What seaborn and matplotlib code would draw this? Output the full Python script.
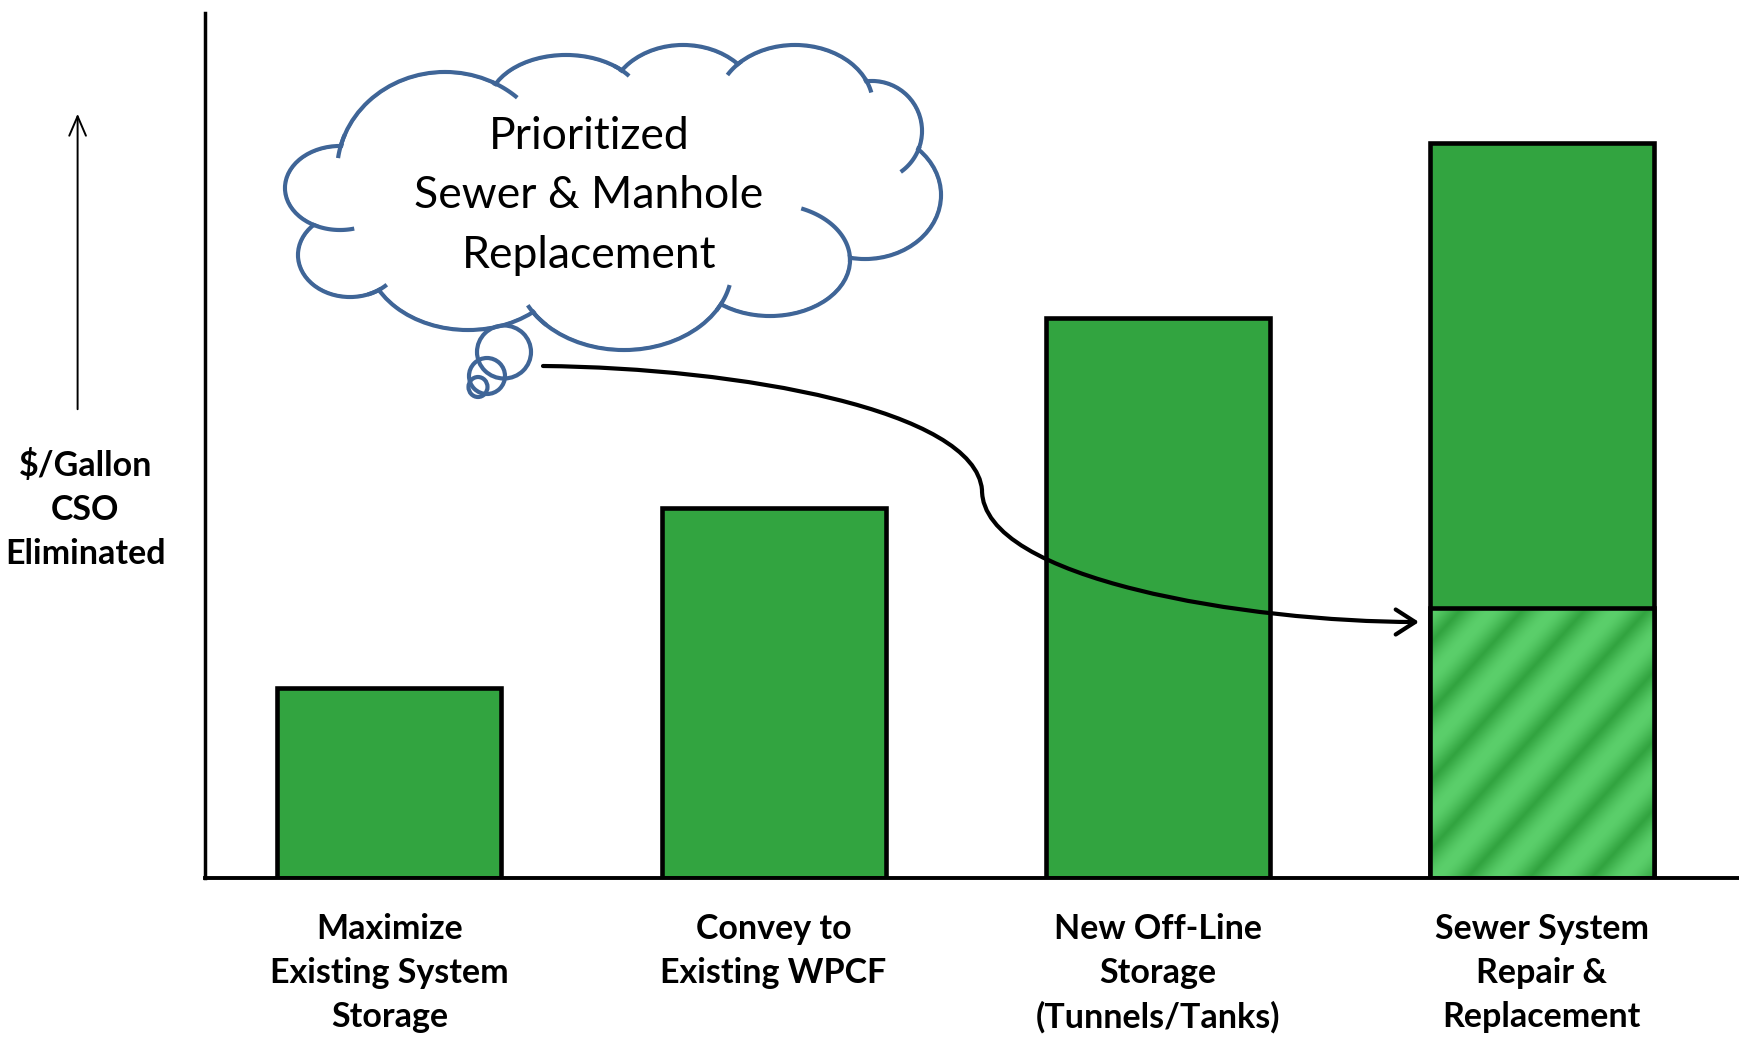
import matplotlib
matplotlib.use("Agg")
import matplotlib.pyplot as plt
import numpy as np
import pandas as pd
import seaborn as sns
from matplotlib.colors import to_rgb
from matplotlib.patches import Ellipse, FancyArrowPatch, Polygon, Rectangle
from matplotlib.path import Path

# chart values (arbitrary $/gallon units)
options = [
    "Maximize\nExisting System\nStorage",
    "Convey to\nExisting WPCF",
    "New Off-Line\nStorage\n(Tunnels/Tanks)",
    "Sewer System\nRepair &\nReplacement",
]
cost = [1.9, 3.7, 5.6, 7.35]
prioritized_option = ["Sewer System\nRepair &\nReplacement"]
prioritized_cost = [2.7]

y_label = "\\$/Gallon\nCSO\nEliminated"
cloud_text = "Prioritized\nSewer & Manhole\nReplacement"

DARK_GREEN = "#32A440"
LIGHT_GREEN = "#5BCF6B"
CLOUD_BLUE = "#3F6597"

sns.set_theme(style="white")
plt.rcParams["font.family"] = ["Lato", "DejaVu Sans"]

W, H = 1739, 1038
fig = plt.figure(figsize=(W / 100, H / 100), dpi=100)
ax = fig.add_axes([205 / W, 1 - 878 / H, 1 - 205 / W, (878 - 13) / H])

df = pd.DataFrame({"option": options, "cost": cost})
df_low = pd.DataFrame({"option": prioritized_option, "cost": prioritized_cost})

sns.barplot(data=df, x="option", y="cost", order=options, color=DARK_GREEN,
            saturation=1, width=0.583, edgecolor="black", linewidth=3.3,
            errorbar=None, ax=ax)
n_full = len(ax.patches)
sns.barplot(data=df_low, x="option", y="cost", order=options, color=LIGHT_GREEN,
            saturation=1, width=0.583, linewidth=0, errorbar=None, ax=ax)
low_bars = ax.patches[n_full:]

ax.set_xlim(-0.48, 3.513)
ax.set_ylim(0, 8.65)
ax.set_yticks([])
ax.set_xlabel("")
sns.despine(ax=ax)
ax.spines["left"].set_linewidth(2.5)
ax.spines["bottom"].set_linewidth(2.8)
for s in ("left", "bottom"):
    ax.spines[s].set_color("black")

ax.tick_params(axis="x", length=0, pad=25, labelsize=24.5, colors="black")
for lbl in ax.get_xticklabels():
    lbl.set_fontweight("bold")
    lbl.set_linespacing(1.46)

ax.set_ylabel(y_label, rotation=0, fontsize=24.5, fontweight="bold",
              ha="center", va="center", linespacing=1.46, color="black")
ax.yaxis.set_label_coords(-0.078, 0.4255)

# soft diagonal stripes on the prioritized part of the last bar
fig.canvas.draw()
dark, light = np.array(to_rgb(DARK_GREEN)), np.array(to_rgb(LIGHT_GREEN))
for p in low_bars:
    x0, y0 = p.get_xy()
    w, h = p.get_width(), p.get_height()
    (px0, py0), (px1, py1) = ax.transData.transform([(x0, y0), (x0 + w, y0 + h)])
    nx, ny = int(px1 - px0), int(py1 - py0)
    gx, gy = np.meshgrid(np.arange(nx), np.arange(ny))
    v = 0.5 + 0.5 * np.cos(2 * np.pi * (gx + 0.9 * gy) / 62.0)
    img = dark + (light - dark) * v[..., None] ** 0.6
    ax.imshow(img, extent=(x0, x0 + w, y0, y0 + h), origin="upper",
              aspect="auto", zorder=p.get_zorder() + 0.05, interpolation="bilinear")
    ax.add_patch(Rectangle((x0, y0), w, h, fill=False, edgecolor="black",
                           linewidth=3.3, zorder=p.get_zorder() + 0.1))
ax.set_xlim(-0.48, 3.513)
ax.set_ylim(0, 8.65)

# upward arrow beside the axis label
ax.annotate("", xy=(77.6, H - 111), xytext=(77.6, H - 412),
            xycoords="figure pixels", textcoords="figure pixels",
            arrowprops=dict(arrowstyle="->,head_length=0.7,head_width=0.3",
                            lw=1.4, color="black", mutation_scale=20))

# overlay in figure pixels for the thought cloud and the curved arrow
ov = fig.add_axes([0, 0, 1, 1], zorder=5)
ov.set_xlim(0, W)
ov.set_ylim(H, 0)
ov.axis("off")

lobes = [
    (445, 172, 108, 100), (566, 106, 78, 51), (683, 105, 75, 60),
    (795, 105, 78, 60), (872, 131, 50, 50), (865, 195, 76, 64),
    (770, 260, 80, 56), (624, 268, 108, 82), (468, 252, 102, 78),
    (350, 255, 52, 42), (340, 188, 55, 42),
]
for cx, cy, rx, ry in lobes:
    ov.add_patch(Ellipse((cx, cy), 2 * rx, 2 * ry, facecolor="white",
                         edgecolor=CLOUD_BLUE, lw=3.0, zorder=1))
for cx, cy, rx, ry in lobes:
    ov.add_patch(Ellipse((cx, cy), 2 * rx - 5, 2 * ry - 5, facecolor="white",
                         edgecolor="none", zorder=2))
ov.add_patch(Polygon([(cx, cy) for cx, cy, _, _ in lobes], closed=True,
                     facecolor="white", edgecolor="none", zorder=2))

# inner strokes: each lobe's outline carried on a little past where it meets its neighbour
hooks = [
    (0, -64, -48), (1, -52, -36), (3, -133, -150), (3, -25, -12),
    (4, 18, 55), (6, -67, 2), (7, 31, 12), (7, 136, 153),
    (9, 70, 45), (10, 120, 75), (0, -158, -172),
]
for i, t0, t1 in hooks:
    cx, cy, rx, ry = lobes[i]
    t = np.radians(np.linspace(t0, t1, 30))
    ov.plot(cx + rx * np.cos(t), cy + ry * np.sin(t), color=CLOUD_BLUE,
            lw=3.0, solid_capstyle="butt", zorder=3)

for cx, cy, ew, eh in [(504, 352, 54, 53), (487, 376, 36, 36), (478, 387, 19, 20)]:
    ov.add_patch(Ellipse((cx, cy), ew, eh, facecolor="none",
                         edgecolor=CLOUD_BLUE, lw=3.0, zorder=3))

ov.text(589, 196, cloud_text, ha="center", va="center", fontsize=32,
        linespacing=1.56, color="black", zorder=4)

verts = [(543, 366), (740, 368), (975, 410), (982, 490),
         (982, 580), (1250, 622), (1419, 622)]
codes = [Path.MOVETO] + [Path.CURVE4] * 6
ov.add_patch(FancyArrowPatch(path=Path(verts, codes),
                             arrowstyle="->,head_length=0.7,head_width=0.45",
                             mutation_scale=20, lw=3.0, color="black", zorder=4))

fig.savefig("out.png", dpi=100)
